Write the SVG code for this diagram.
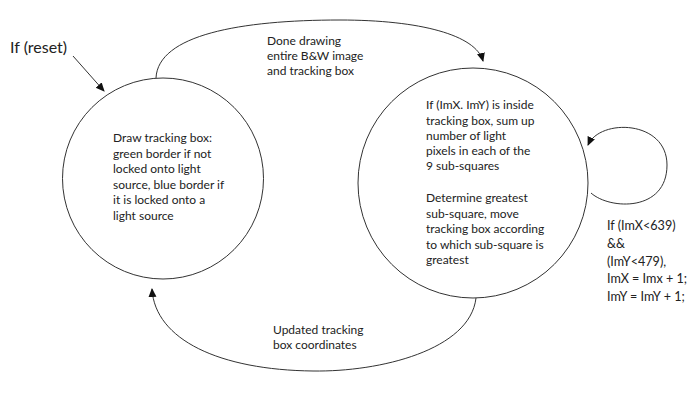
<svg xmlns="http://www.w3.org/2000/svg" width="700" height="404" viewBox="0 0 700 404">
<defs>
<style>
.st{fill:none;stroke:#333;stroke-width:1}
.t{font-family:Lato,"Liberation Sans",sans-serif;font-size:12px;fill:#222}
.big{font-size:16px}
.mid{font-size:12.6px}
</style>
<marker id="ah" markerWidth="10" markerHeight="10" refX="8" refY="4" orient="auto" markerUnits="userSpaceOnUse">
<path d="M0,0 L9,4 L0,8 Z" fill="#111"/>
</marker>
</defs>
<rect width="700" height="404" fill="#fff"/>
<g id="reset">
<text class="t big" x="10" y="53">If (reset)</text>
</g>
<g id="draw-state">
<circle class="st" cx="163" cy="178.5" r="100.5"/>
<text class="t" x="113">
<tspan x="113" y="142">Draw tracking box:</tspan>
<tspan x="113" y="157.5">green border if not</tspan>
<tspan x="113" y="173">locked onto light</tspan>
<tspan x="113" y="188.5">source, blue border if</tspan>
<tspan x="113" y="204">it is locked onto a</tspan>
<tspan x="113" y="219.5">light source</tspan>
</text>
</g>
<g id="track-state">
<circle class="st" cx="473" cy="183" r="115"/>
<text class="t">
<tspan x="426" y="109">If (ImX. ImY) is inside</tspan>
<tspan x="426" y="124.5">tracking box, sum up</tspan>
<tspan x="426" y="139.5">number of light</tspan>
<tspan x="426" y="155">pixels in each of the</tspan>
<tspan x="426" y="170">9 sub-squares</tspan>
<tspan x="426" y="202">Determine greatest</tspan>
<tspan x="426" y="218">sub-square, move</tspan>
<tspan x="426" y="233">tracking box according</tspan>
<tspan x="426" y="248.5">to which sub-square is</tspan>
<tspan x="426" y="264">greatest</tspan>
</text>
</g>
<g id="connectors">
<path class="st" d="M73,56 L104,91" marker-end="url(#ah)"/>
<path class="st" d="M156,78 C158,35 240,20 340,20 C420,20 476,35 483,61" marker-end="url(#ah)"/>
<path class="st" d="M476,298 C470,350 380,372 313,371 C220,370 155,340 152,289" marker-end="url(#ah)"/>
<path class="st" d="M591,193 C610,210 667,212 667,165 C667,120 600,118 588,145" marker-end="url(#ah)"/>
</g>
<g id="labels">
<text class="t"><tspan x="267" y="45">Done drawing</tspan><tspan x="267" y="60">entire B&amp;W image</tspan><tspan x="267" y="75">and tracking box</tspan></text>
<text class="t"><tspan x="273" y="334">Updated tracking</tspan><tspan x="273" y="349">box coordinates</tspan></text>
<text class="t mid"><tspan x="607" y="230">If (ImX&lt;639)</tspan><tspan x="607" y="248">&amp;&amp;</tspan><tspan x="607" y="265.5">(ImY&lt;479),</tspan><tspan x="607" y="283">ImX = Imx + 1;</tspan><tspan x="607" y="300.5">ImY = ImY + 1;</tspan></text>
</g>
</svg>
